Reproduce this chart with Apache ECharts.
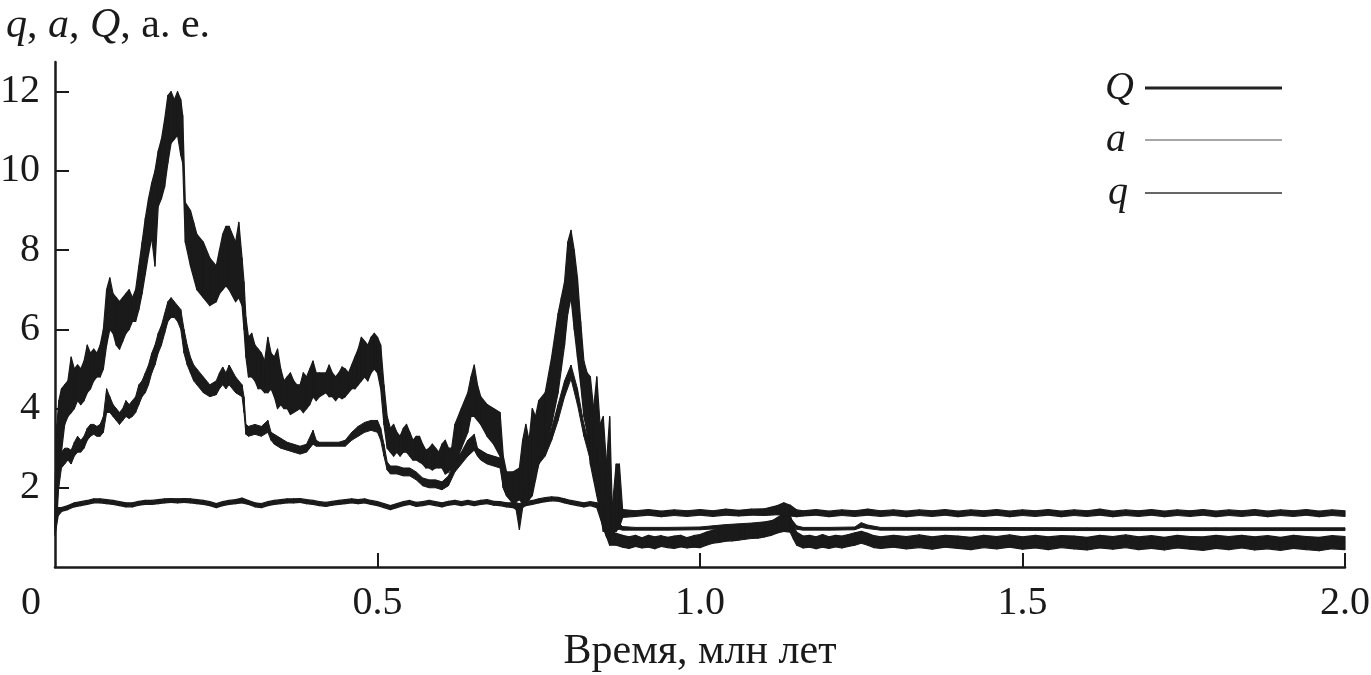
<!DOCTYPE html>
<html>
<head>
<meta charset="utf-8">
<script src="https://cdn.jsdelivr.net/npm/echarts@6/dist/echarts.min.js"></script>
<style>
html,body{margin:0;padding:0;background:#fff;}
#chart{width:1371px;height:675px;}
</style>
</head>
<body>
<div id="chart"></div>
<script>
// ---- data: rows are [time (Myr), lower edge, upper edge] ----
const Q_band = [
[0.000,0.85,2.0],[0.003,1.2,3.6],[0.006,2.2,4.2],[0.010,2.9,4.5],[0.015,3.6,4.6],[0.020,3.8,4.7],
[0.025,3.9,5.3],[0.030,4.0,5.0],[0.035,4.2,5.1],[0.040,4.1,5.0],[0.045,4.2,5.2],[0.050,4.4,5.6],[0.055,4.5,5.4],
[0.060,4.7,5.5],[0.065,4.8,5.4],[0.070,4.8,5.6],[0.075,5.0,6.0],[0.080,5.6,7.0],[0.085,6.0,7.3],
[0.090,5.9,6.9],[0.095,5.6,6.8],[0.100,5.5,6.7],[0.105,5.7,6.8],[0.110,5.9,6.9],[0.115,6.0,7.0],
[0.120,6.2,6.8],[0.125,6.2,7.0],[0.130,6.5,7.6],[0.135,6.9,8.2],[0.140,7.4,8.8],[0.145,7.9,9.3],
[0.150,8.3,9.7],[0.155,7.6,10.0],[0.160,9.1,10.5],[0.165,9.3,10.8],[0.170,9.6,11.3],[0.175,10.2,11.9],
[0.180,10.7,12.0],[0.185,10.8,11.8],[0.190,10.9,12.0],[0.195,10.4,11.8],[0.198,10.2,11.4],[0.202,8.2,9.2],
[0.210,7.6,9.0],[0.215,7.3,8.7],[0.220,7.0,8.4],[0.230,6.8,8.2],[0.240,6.6,7.8],[0.250,6.7,7.6],
[0.255,6.9,8.0],[0.260,7.0,8.4],[0.265,7.1,8.6],[0.270,7.0,8.6],[0.280,6.7,8.2],[0.285,6.8,8.7],
[0.290,6.6,7.8],[0.293,6.0,7.2],[0.296,5.3,6.3],[0.300,4.8,5.8],[0.305,4.8,5.9],[0.310,4.7,5.6],[0.315,4.5,5.5],
[0.320,4.5,5.4],[0.325,4.4,5.2],[0.330,4.4,5.8],[0.335,4.5,5.4],[0.340,4.3,5.3],[0.345,4.0,5.5],[0.350,4.1,5.0],
[0.355,4.0,4.7],[0.360,4.0,4.8],[0.365,3.85,4.9],[0.370,3.9,4.7],[0.375,3.95,4.6],[0.380,4.0,4.6],[0.385,3.9,4.9],
[0.390,4.0,4.8],[0.395,4.1,5.0],[0.400,4.3,5.2],[0.405,4.2,4.9],[0.410,4.3,4.9],[0.420,4.4,4.9],[0.425,4.3,5.1],
[0.430,4.3,4.9],[0.435,4.2,4.8],[0.440,4.3,4.9],[0.445,4.25,5.05],[0.450,4.3,5.0],[0.455,4.4,4.9],[0.460,4.5,5.1],
[0.465,4.5,5.3],[0.470,4.6,5.5],[0.475,4.7,5.8],[0.480,4.8,5.7],[0.485,4.7,5.6],[0.490,4.9,5.8],[0.495,5.0,5.9],
[0.500,4.9,5.8],[0.505,4.5,5.6],[0.510,3.6,4.6],[0.515,3.0,3.8],[0.520,2.9,3.5],[0.525,2.8,3.6],[0.530,2.9,3.4],
[0.535,2.8,3.3],[0.540,2.9,3.5],[0.545,2.9,3.6],[0.550,2.8,3.4],[0.555,2.7,3.2],[0.560,2.7,3.3],[0.565,2.65,3.3],
[0.570,2.6,3.1],[0.575,2.5,2.95],[0.580,2.5,3.0],[0.585,2.45,3.1],[0.590,2.5,3.0],[0.595,2.5,2.9],[0.600,2.5,3.1],
[0.605,2.35,3.2],[0.610,2.4,3.0],[0.615,2.5,3.0],[0.620,2.6,3.6],[0.630,3.0,4.0],
[0.640,3.4,4.4],[0.645,3.8,4.8],[0.650,3.8,5.1],[0.655,3.7,4.6],[0.660,3.6,4.3],[0.670,3.3,4.1],
[0.680,3.1,4.0],[0.690,2.8,3.9],[0.695,2.0,2.8],[0.700,1.8,2.4],[0.710,1.6,2.4],[0.720,1.7,2.5],
[0.725,1.6,3.2],[0.730,1.6,3.6],[0.735,1.7,3.2],[0.740,1.8,4.0],[0.745,2.2,3.8],[0.750,2.6,4.2],
[0.760,3.0,4.4],[0.770,3.6,5.3],[0.780,4.4,6.4],[0.785,5.0,6.8],[0.790,5.6,7.2],[0.795,6.4,8.2],
[0.800,6.8,8.5],[0.805,6.0,8.0],[0.810,5.3,7.3],[0.815,4.6,6.2],[0.820,3.8,5.2],[0.825,3.4,4.9],
[0.830,2.6,4.8],[0.835,2.2,4.0],[0.840,1.8,4.8],[0.845,1.4,3.6],[0.850,0.9,3.8],[0.855,0.9,2.6],
[0.860,0.9,3.8],[0.864,0.9,1.5],[0.870,0.9,2.6],[0.875,1.0,2.6],[0.880,1.25,1.45],
[0.90,1.28,1.42],[0.92,1.31,1.45],[0.94,1.27,1.41],[0.96,1.30,1.44],[0.98,1.28,1.42],[1.00,1.31,1.45],
[1.02,1.28,1.42],[1.04,1.31,1.46],[1.06,1.29,1.43],[1.08,1.31,1.46],[1.10,1.30,1.47],[1.12,1.32,1.55],
[1.13,1.30,1.62],[1.14,1.29,1.56],[1.15,1.27,1.44],[1.16,1.29,1.42],[1.18,1.31,1.45],[1.20,1.27,1.41],
[1.22,1.30,1.44],[1.24,1.28,1.42],[1.26,1.31,1.46],[1.28,1.28,1.42],[1.30,1.30,1.44],[1.32,1.27,1.41],
[1.34,1.30,1.44],[1.36,1.28,1.42],[1.38,1.31,1.45],[1.40,1.27,1.41],[1.42,1.30,1.44],[1.44,1.28,1.42],
[1.46,1.31,1.45],[1.48,1.27,1.41],[1.50,1.30,1.44],[1.52,1.28,1.42],[1.54,1.31,1.45],[1.56,1.27,1.41],
[1.58,1.30,1.44],[1.60,1.28,1.42],[1.62,1.31,1.46],[1.64,1.27,1.41],[1.66,1.30,1.44],[1.68,1.28,1.42],
[1.70,1.31,1.45],[1.72,1.27,1.41],[1.74,1.30,1.44],[1.76,1.28,1.42],[1.78,1.31,1.45],[1.80,1.27,1.41],
[1.82,1.30,1.44],[1.84,1.28,1.42],[1.86,1.31,1.45],[1.88,1.27,1.41],[1.90,1.30,1.44],[1.92,1.28,1.42],
[1.94,1.31,1.45],[1.96,1.27,1.41],[1.98,1.30,1.44],[2.00,1.28,1.42]
];

const a_band = [
[0.000,1.0,1.5],[0.005,1.9,2.6],[0.010,2.5,2.9],[0.015,2.6,3.0],[0.020,2.7,3.0],[0.025,2.6,2.95],
[0.030,2.8,3.15],[0.035,2.9,3.3],[0.040,2.9,3.2],[0.045,3.0,3.3],[0.050,3.2,3.5],[0.055,3.3,3.6],
[0.060,3.35,3.6],[0.065,3.3,3.55],[0.070,3.3,3.6],[0.075,3.4,3.8],[0.080,3.9,4.5],[0.085,3.9,4.3],
[0.090,3.8,4.1],[0.095,3.7,4.0],[0.100,3.6,3.9],[0.105,3.7,4.0],[0.110,3.8,4.2],[0.115,3.75,4.1],
[0.120,3.8,4.2],[0.125,3.9,4.3],[0.130,4.1,4.6],[0.135,4.3,4.7],[0.140,4.4,4.9],[0.145,4.6,5.1],
[0.150,4.9,5.4],[0.155,5.1,5.6],[0.160,5.4,5.9],[0.165,5.6,6.1],[0.170,5.9,6.4],[0.175,6.2,6.7],
[0.180,6.3,6.8],[0.185,6.3,6.7],[0.190,6.2,6.6],[0.195,6.0,6.5],[0.200,5.4,6.0],[0.205,5.1,5.6],
[0.210,4.9,5.3],[0.215,4.7,5.1],[0.220,4.6,5.0],[0.230,4.4,4.8],[0.240,4.3,4.6],[0.250,4.35,4.7],
[0.255,4.5,4.9],[0.260,4.6,5.05],[0.265,4.5,4.9],[0.270,4.6,5.1],[0.280,4.4,4.8],[0.290,4.3,4.6],
[0.293,3.9,4.3],[0.296,3.35,3.6],[0.300,3.3,3.55],[0.310,3.35,3.6],[0.320,3.3,3.55],[0.330,3.4,3.7],
[0.335,3.2,3.4],[0.340,3.1,3.35],[0.350,3.0,3.25],[0.360,2.95,3.15],[0.370,2.9,3.1],[0.380,2.85,3.05],
[0.390,2.9,3.1],[0.400,3.1,3.45],[0.405,3.05,3.2],[0.410,3.05,3.15],[0.420,3.05,3.15],[0.430,3.05,3.15],
[0.440,3.05,3.15],[0.450,3.05,3.2],[0.460,3.2,3.4],[0.470,3.3,3.55],[0.480,3.4,3.65],[0.490,3.45,3.7],
[0.500,3.4,3.7],[0.505,3.2,3.5],[0.510,2.8,3.1],[0.515,2.45,2.65],[0.520,2.35,2.55],[0.530,2.35,2.55],
[0.540,2.3,2.5],[0.550,2.3,2.5],[0.560,2.2,2.4],[0.570,2.05,2.25],[0.580,2.0,2.2],[0.590,2.0,2.2],
[0.600,1.95,2.15],[0.610,2.05,2.3],[0.620,2.4,2.7],[0.630,2.6,2.9],[0.640,2.8,3.2],[0.650,2.95,3.35],
[0.655,2.8,3.0],[0.660,2.7,2.95],[0.670,2.6,2.85],[0.680,2.55,2.8],[0.690,2.5,2.75],[0.695,2.0,2.3],
[0.700,1.8,2.0],[0.710,1.75,1.95],[0.720,1.75,1.95],[0.730,1.85,2.1],[0.740,2.0,2.4],[0.750,2.6,2.9],
[0.760,2.8,3.1],[0.770,3.2,3.5],[0.780,3.7,4.1],[0.790,4.3,4.7],[0.800,4.75,5.1],[0.810,4.1,4.5],
[0.820,3.3,3.6],[0.830,2.7,3.0],[0.840,2.6,2.95],[0.845,1.8,2.4],[0.850,1.0,1.6],[0.855,0.75,1.0],
[0.860,0.65,0.9],[0.865,0.8,1.1],[0.870,0.95,1.2],[0.875,0.95,1.1],[0.880,0.93,1.02],
[0.90,0.93,1.0],[0.95,0.93,1.0],[1.00,0.94,1.01],[1.02,0.96,1.04],[1.04,0.99,1.07],[1.06,1.01,1.09],
[1.08,1.03,1.11],[1.10,1.05,1.14],[1.12,1.09,1.2],[1.13,1.13,1.27],[1.14,1.1,1.24],[1.15,0.95,1.04],
[1.16,0.93,1.0],[1.20,0.93,1.0],[1.24,0.94,1.01],[1.25,1.0,1.12],[1.26,0.97,1.06],[1.28,0.93,1.0],
[1.40,0.93,1.0],[1.60,0.92,0.99],[1.80,0.92,0.99],[2.00,0.92,0.99]
];

const q_band = [
[0.000,0.8,1.3],[0.005,1.3,1.5],[0.010,1.40,1.50],[0.020,1.45,1.55],[0.030,1.52,1.62],[0.040,1.55,1.65],
[0.050,1.58,1.68],[0.060,1.62,1.72],[0.070,1.62,1.72],[0.080,1.60,1.70],[0.090,1.58,1.68],[0.100,1.55,1.65],
[0.110,1.52,1.62],[0.120,1.52,1.62],[0.130,1.56,1.66],[0.140,1.58,1.68],[0.150,1.58,1.68],[0.160,1.60,1.70],
[0.170,1.62,1.72],[0.180,1.63,1.73],[0.190,1.62,1.72],[0.200,1.63,1.73],[0.210,1.62,1.72],[0.220,1.60,1.70],
[0.230,1.58,1.68],[0.240,1.55,1.65],[0.250,1.50,1.60],[0.260,1.55,1.65],[0.270,1.58,1.68],[0.280,1.60,1.70],
[0.290,1.62,1.74],[0.300,1.58,1.68],[0.310,1.52,1.62],[0.320,1.50,1.60],[0.330,1.55,1.65],[0.340,1.58,1.68],
[0.350,1.60,1.70],[0.360,1.62,1.72],[0.370,1.62,1.72],[0.380,1.63,1.73],[0.390,1.60,1.70],[0.400,1.58,1.68],
[0.410,1.55,1.65],[0.420,1.53,1.63],[0.430,1.56,1.66],[0.440,1.58,1.68],[0.450,1.60,1.70],[0.460,1.62,1.72],
[0.470,1.60,1.70],[0.480,1.62,1.72],[0.490,1.58,1.68],[0.500,1.55,1.65],[0.510,1.50,1.60],[0.520,1.45,1.55],
[0.530,1.50,1.60],[0.540,1.55,1.65],[0.550,1.58,1.68],[0.560,1.53,1.63],[0.570,1.55,1.65],[0.580,1.58,1.68],
[0.590,1.55,1.65],[0.600,1.52,1.62],[0.610,1.56,1.66],[0.620,1.58,1.68],[0.630,1.55,1.65],[0.640,1.58,1.68],
[0.650,1.55,1.65],[0.660,1.58,1.68],[0.670,1.60,1.70],[0.680,1.56,1.66],[0.690,1.55,1.65],[0.700,1.52,1.62],
[0.710,1.50,1.62],[0.715,1.45,1.62],[0.720,0.95,1.60],[0.725,1.50,1.62],[0.730,1.55,1.65],[0.740,1.58,1.68],
[0.750,1.62,1.72],[0.760,1.65,1.75],[0.770,1.67,1.77],[0.780,1.66,1.76],[0.790,1.62,1.72],[0.800,1.58,1.68],
[0.810,1.55,1.65],[0.820,1.52,1.62],[0.830,1.55,1.65],[0.840,1.50,1.62],[0.850,1.0,1.5],[0.860,0.55,0.9],
[0.870,0.55,0.85],[0.880,0.50,0.80],[0.890,0.47,0.76],[0.900,0.52,0.80],[0.910,0.48,0.74],[0.920,0.50,0.80],
[0.930,0.46,0.76],[0.940,0.52,0.79],[0.950,0.49,0.75],[0.960,0.47,0.78],[0.970,0.51,0.80],[0.980,0.48,0.74],
[0.990,0.50,0.79],[1.000,0.49,0.82],[1.010,0.55,0.88],[1.020,0.60,0.93],[1.030,0.62,0.98],[1.040,0.65,1.00],
[1.050,0.66,1.00],[1.060,0.68,1.02],[1.070,0.70,1.04],[1.080,0.72,1.06],[1.090,0.73,1.08],[1.100,0.76,1.10],
[1.110,0.80,1.15],[1.120,0.86,1.25],[1.130,0.90,1.35],[1.140,0.88,1.30],[1.145,0.70,1.05],[1.150,0.55,0.88],
[1.160,0.48,0.78],[1.170,0.50,0.80],[1.180,0.46,0.76],[1.190,0.50,0.82],[1.200,0.47,0.76],[1.210,0.51,0.80],
[1.220,0.48,0.78],[1.230,0.52,0.82],[1.240,0.55,0.86],[1.250,0.60,0.90],[1.260,0.55,0.85],[1.270,0.49,0.79],
[1.280,0.47,0.76],[1.300,0.50,0.80],[1.320,0.46,0.77],[1.340,0.49,0.81],[1.360,0.45,0.76],[1.380,0.50,0.80],
[1.400,0.47,0.78],[1.420,0.44,0.75],[1.440,0.49,0.80],[1.460,0.46,0.77],[1.480,0.50,0.81],[1.500,0.45,0.76],
[1.520,0.48,0.80],[1.540,0.44,0.76],[1.560,0.49,0.79],[1.580,0.46,0.78],[1.600,0.43,0.75],[1.620,0.48,0.80],
[1.640,0.45,0.77],[1.660,0.49,0.81],[1.680,0.44,0.76],[1.700,0.47,0.79],[1.720,0.43,0.75],[1.740,0.48,0.80],
[1.760,0.45,0.77],[1.780,0.42,0.76],[1.800,0.47,0.80],[1.820,0.44,0.77],[1.840,0.48,0.80],[1.860,0.43,0.76],
[1.880,0.46,0.79],[1.900,0.42,0.75],[1.920,0.47,0.80],[1.940,0.44,0.77],[1.960,0.41,0.75],[1.980,0.46,0.79],
[2.000,0.44,0.77]
];

const xTickValues = [0.5, 1.0, 1.5, 2.0];
const xLabelValues = [0, 0.5, 1.0, 1.5, 2.0];
const yTickValues = [2, 4, 6, 8, 10, 12];
const seriesNames = ['Q', 'a', 'q'];
const titleText = '{i|q}, {i|a}, {i|Q}, а. е.';
const xName = 'Время, млн лет';

// ---- build per-segment data (library maps every corner through its axes) ----
function segments(rows) {
  const out = [];
  for (let i = 0; i < rows.length - 1; i++) {
    out.push([rows[i][0], rows[i][1], rows[i][2], rows[i + 1][0], rows[i + 1][1], rows[i + 1][2]]);
  }
  return out;
}
function bandRenderer(color, strokeW) {
  return function (params, api) {
    const p0 = api.coord([api.value(0), api.value(1)]);
    const p1 = api.coord([api.value(0), api.value(2)]);
    const p2 = api.coord([api.value(3), api.value(5)]);
    const p3 = api.coord([api.value(3), api.value(4)]);
    return {
      type: 'polygon',
      shape: { points: [p0, p1, p2, p3] },
      style: { fill: color, stroke: color, lineWidth: strokeW, lineJoin: 'round' }
    };
  };
}
const INK = '#1a1a1a';
const SERIF = "'Liberation Serif', 'DejaVu Serif', serif";
function bandSeries(name, rows, strokeW) {
  return {
    type: 'custom', name: name,
    renderItem: bandRenderer(INK, strokeW),
    data: segments(rows),
    dimensions: ['t0', 'lo0', 'hi0', 't1', 'lo1', 'hi1'],
    encode: { x: [0, 3], y: [1, 2, 4, 5] },
    itemStyle: { color: INK },
    silent: true, animation: false, z: 2
  };
}
function legendIcon(thick) {
  const y0 = (20 - thick) / 2;
  return 'path://M0,0h0.05v0.05h-0.05zM0,' + y0 + 'h137v' + thick + 'h-137zM136.95,19.95h0.05v0.05h-0.05z';
}
function legendFor(name, top, thick, color, padRight) {
  return {
    data: [{ name: name, icon: legendIcon(thick), itemStyle: { color: color } }],
    orient: 'vertical', align: 'right', right: 89, top: top, padding: 0,
    itemWidth: 137, itemHeight: 20, selectedMode: false,
    textStyle: { fontFamily: SERIF, fontStyle: 'italic', fontSize: 40, color: '#1a1a1a', padding: [0, padRight, 0, 0] }
  };
}

const chart = echarts.init(document.getElementById('chart'), null, { renderer: 'canvas' });
chart.setOption({
  animation: false,
  backgroundColor: '#ffffff',
  title: {
    text: titleText, left: 6, top: 5, padding: 0,
    textStyle: {
      fontFamily: SERIF, fontSize: 42, fontWeight: 'normal', color: '#1a1a1a',
      rich: { i: { fontFamily: SERIF, fontStyle: 'italic', fontSize: 42, color: '#1a1a1a' } }
    }
  },
  legend: [
    legendFor('Q', 68, 3, '#222222', 6),
    legendFor('a', 120, 1.5, '#8a8a8a', 14),
    legendFor('q', 173, 2, '#666666', 12)
  ],
  grid: { left: 55, right: 26, top: 62, bottom: 108, containLabel: false, outerBoundsMode: 'none' },
  xAxis: {
    type: 'value', min: 0, max: 2, interval: 0.5,
    name: xName, nameLocation: 'middle', nameGap: 64,
    nameTextStyle: { fontFamily: SERIF, fontSize: 42, color: '#1a1a1a' },
    axisLine: { show: true, lineStyle: { color: '#1a1a1a', width: 2.5 } },
    axisTick: { show: true, inside: true, length: 14, lineStyle: { color: '#1a1a1a', width: 2 }, customValues: xTickValues },
    axisLabel: {
      customValues: xLabelValues, margin: 16,
      fontFamily: SERIF, fontSize: 40, color: '#1a1a1a',
      formatter: function (v) { return v === 0 ? '{z|0}' : v.toFixed(1); },
      rich: { z: { fontFamily: SERIF, fontSize: 40, color: '#1a1a1a', padding: [0, 48, 0, 0] } }
    },
    splitLine: { show: false }
  },
  yAxis: {
    type: 'value', min: 0, max: 12.75, interval: 2,
    axisLine: { show: true, lineStyle: { color: '#1a1a1a', width: 2.5 } },
    axisTick: { show: true, inside: true, length: 14, lineStyle: { color: '#1a1a1a', width: 2 }, customValues: yTickValues },
    axisLabel: { customValues: yTickValues, margin: 15, fontFamily: SERIF, fontSize: 40, color: '#1a1a1a' },
    splitLine: { show: false }
  },
  series: [
    bandSeries(seriesNames[2], q_band, 1.2),
    bandSeries(seriesNames[1], a_band, 1.0),
    bandSeries(seriesNames[0], Q_band, 1.2)
  ]
});
</script>
</body>
</html>
